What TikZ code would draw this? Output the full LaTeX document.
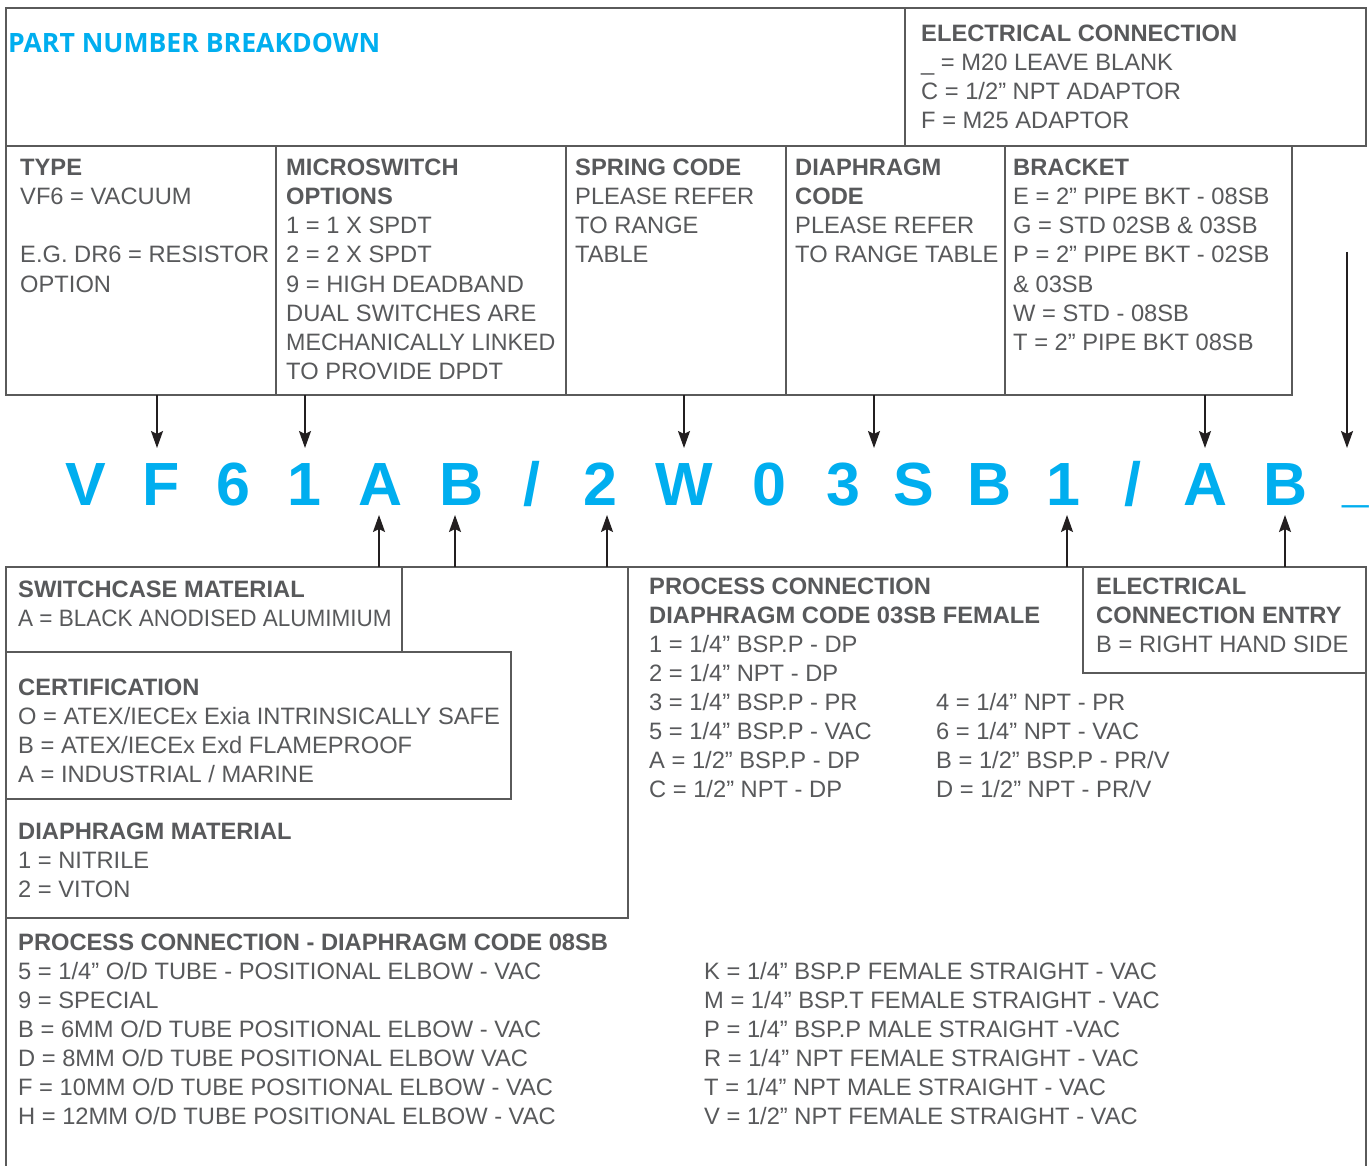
\documentclass[tikz,border=0pt]{standalone}
\usepackage{fontspec}
\setmainfont{Liberation Sans}
\newfontfamily\titlefont{Open Sans}
\usetikzlibrary{arrows.meta}
\definecolor{cyanpn}{HTML}{00AEEF}
\definecolor{txtgray}{HTML}{58595B}
\definecolor{linegray}{HTML}{5A5A5A}
\definecolor{arrblack}{HTML}{231F20}
\begin{document}
\begin{tikzpicture}[x=1pt,y=-1pt,
 box/.style={draw=linegray,line width=2.2pt},
 txt/.style={anchor=base west,inner sep=0pt,text=txtgray,font=\fontsize{23.7}{29}\selectfont},
 hdr/.style={anchor=base west,inner sep=0pt,text=txtgray,font=\fontsize{23.7}{29}\selectfont\bfseries},
 big/.style={anchor=base,inner sep=0pt,text=cyanpn,font=\fontsize{61}{61}\selectfont\bfseries},
 arr/.style={draw=arrblack,line width=2pt,-{Stealth[length=17pt,width=12pt,inset=3pt]}}
]
\useasboundingbox[fill=white] (0,0) rectangle (1370,1166);

% ---------- top boxes ----------
\draw[box] (6,8) rectangle (1366,146);
\draw[box] (905,8) -- (905,146);
\draw[box] (6,146) rectangle (1292,395);
\foreach \xx in {276,566,786,1005} \draw[box] (\xx,146) -- (\xx,395);

% ---------- bottom boxes ----------
\draw[box] (6,1180) -- (6,567) -- (1366,567) -- (1366,1180);
\draw[box] (402,567) -- (402,652);
\draw[box] (6,652) -- (511,652) -- (511,799) -- (6,799);
\draw[box] (628,567) -- (628,918) -- (6,918);
\draw[box] (1083,567) -- (1083,673) -- (1366,673);

% ---------- title ----------
\node[anchor=base west,inner sep=0pt,text=cyanpn,font=\titlefont\bfseries\fontsize{26.6}{30}\selectfont] (title) at (8,53) {PART NUMBER BREAKDOWN};

% ---------- electrical connection ----------
\node[hdr] (ec0) at (921,42) {ELECTRICAL CONNECTION};
\node[txt] (ec1) at (921,71) {\_ = M20 LEAVE BLANK};
\node[txt] (ec2) at (921,100) {C = 1/2” NPT ADAPTOR};
\node[txt] (ec3) at (921,129) {F = M25 ADAPTOR};

% ---------- type ----------
\node[hdr] (ty0) at (20,176) {TYPE};
\node[txt] (ty1) at (20,205) {VF6 = VACUUM};
\node[txt] (ty2) at (20,263) {E.G. DR6 = RESISTOR};
\node[txt] (ty3) at (20,292) {OPTION};

% ---------- microswitch ----------
\node[hdr] (ms0) at (286,176) {MICROSWITCH};
\node[hdr] (ms1) at (286,205) {OPTIONS};
\node[txt] (ms2) at (286,234) {1 = 1 X SPDT};
\node[txt] (ms3) at (286,263) {2 = 2 X SPDT};
\node[txt] (ms4) at (286,292) {9 = HIGH DEADBAND};
\node[txt] (ms5) at (286,321) {DUAL SWITCHES ARE};
\node[txt] (ms6) at (286,350) {\scalebox{0.98}[1]{MECHANICALLY LINKED}};
\node[txt] (ms7) at (286,379) {TO PROVIDE DPDT};

% ---------- spring code ----------
\node[hdr] (sp0) at (575,176) {SPRING CODE};
\node[txt] (sp1) at (575,205) {PLEASE REFER};
\node[txt] (sp2) at (575,234) {TO RANGE};
\node[txt] (sp3) at (575,263) {TABLE};

% ---------- diaphragm code ----------
\node[hdr] (dc0) at (795,176) {DIAPHRAGM};
\node[hdr] (dc1) at (795,205) {CODE};
\node[txt] (dc2) at (795,234) {PLEASE REFER};
\node[txt] (dc3) at (795,263) {TO RANGE TABLE};

% ---------- bracket ----------
\node[hdr] (br0) at (1013,176) {BRACKET};
\node[txt] (br1) at (1013,205) {E = 2” PIPE BKT - 08SB};
\node[txt] (br2) at (1013,234) {G = STD 02SB \& 03SB};
\node[txt] (br3) at (1013,263) {P = 2” PIPE BKT - 02SB};
\node[txt] (br4) at (1013,292) {\& 03SB};
\node[txt] (br5) at (1013,321) {W = STD - 08SB};
\node[txt] (br6) at (1013,350) {T = 2” PIPE BKT 08SB};

% ---------- part number letters ----------
\node[big] (L1) at (86,505) {V};
\node[big] (L2) at (161,505) {F};
\node[big] (L3) at (233,505) {6};
\node[big] (L4) at (304,505) {1};
\node[big] (L5) at (381,505) {A};
\node[big] (L6) at (462,505) {B};
\node[big] (L7) at (532,505) {/};
\node[big] (L8) at (600,505) {2};
\node[big] (L9) at (684,505) {W};
\node[big] (L10) at (769,505) {0};
\node[big] (L11) at (843,505) {3};
\node[big] (L12) at (914,505) {S};
\node[big] (L13) at (990,505) {B};
\node[big] (L14) at (1063,505) {1};
\node[big] (L15) at (1133,505) {/};
\node[big] (L16) at (1206,505) {A};
\node[big] (L17) at (1286,505) {B};
\node[big,anchor=base west] (L18) at (1342,500) {\scalebox{0.78}[1]{\_}};

% ---------- arrows ----------
\coordinate (downtip) at (0,448);
\coordinate (uptip) at (0,515);
\coordinate (dTY) at (157,395);
\coordinate (dMS) at (305,395);
\coordinate (dSP) at (684,395);
\coordinate (dDC) at (874,395);
\coordinate (dBR) at (1205,395);
\coordinate (dEC) at (1347,252);
\foreach \c in {dTY,dMS,dSP,dDC,dBR,dEC} \draw[arr] (\c) -- (\c |- downtip);
\coordinate (uSW) at (379,567);
\coordinate (uCE) at (455,567);
\coordinate (uDM) at (607,567);
\coordinate (uPC) at (1067,567);
\coordinate (uEE) at (1285,567);
\foreach \c in {uSW,uCE,uDM,uPC,uEE} \draw[arr] (\c) -- (\c |- uptip);

% ---------- switchcase ----------
\node[hdr] (sw0) at (18,597) {SWITCHCASE MATERIAL};
\node[txt] (sw1) at (18,626) {\scalebox{0.95}[1]{A = BLACK ANODISED ALUMIMIUM}};

% ---------- certification ----------
\node[hdr] (ce0) at (18,695) {CERTIFICATION};
\node[txt] (ce1) at (18,724) {O = ATEX/IECEx Exia INTRINSICALLY SAFE};
\node[txt] (ce2) at (18,753) {B = ATEX/IECEx Exd FLAMEPROOF};
\node[txt] (ce3) at (18,782) {A = INDUSTRIAL / MARINE};

% ---------- diaphragm material ----------
\node[hdr] (dm0) at (18,839) {DIAPHRAGM MATERIAL};
\node[txt] (dm1) at (18,868) {1 = NITRILE};
\node[txt] (dm2) at (18,897) {2 = VITON};

% ---------- process connection 08SB ----------
\node[hdr] (pa0) at (18,950) {PROCESS CONNECTION - DIAPHRAGM CODE 08SB};
\node[txt] (pa1) at (18,979) {5 = 1/4” O/D TUBE - POSITIONAL ELBOW - VAC};
\node[txt] (pa2) at (18,1008) {9 = SPECIAL};
\node[txt] (pa3) at (18,1037) {B = 6MM O/D TUBE POSITIONAL ELBOW - VAC};
\node[txt] (pa4) at (18,1066) {D = 8MM O/D TUBE POSITIONAL ELBOW VAC};
\node[txt] (pa5) at (18,1095) {F = 10MM O/D TUBE POSITIONAL ELBOW - VAC};
\node[txt] (pa6) at (18,1124) {H = 12MM O/D TUBE POSITIONAL ELBOW - VAC};
\node[txt] (pb1) at (704,979) {K = 1/4” BSP.P FEMALE STRAIGHT - VAC};
\node[txt] (pb2) at (704,1008) {M = 1/4” BSP.T FEMALE STRAIGHT - VAC};
\node[txt] (pb3) at (704,1037) {P = 1/4” BSP.P MALE STRAIGHT -VAC};
\node[txt] (pb4) at (704,1066) {R = 1/4” NPT FEMALE STRAIGHT - VAC};
\node[txt] (pb5) at (704,1095) {T = 1/4” NPT MALE STRAIGHT - VAC};
\node[txt] (pb6) at (704,1124) {V = 1/2” NPT FEMALE STRAIGHT - VAC};

% ---------- process connection 03SB ----------
\node[hdr] (pc0) at (649,594) {PROCESS CONNECTION};
\node[hdr] (pc1) at (649,623) {DIAPHRAGM CODE 03SB FEMALE};
\node[txt] (pc2) at (649,652) {1 = 1/4” BSP.P - DP};
\node[txt] (pc3) at (649,681) {2 = 1/4” NPT - DP};
\node[txt] (pc4) at (649,710) {3 = 1/4” BSP.P - PR};
\node[txt] (pc5) at (649,739) {5 = 1/4” BSP.P - VAC};
\node[txt] (pc6) at (649,768) {A = 1/2” BSP.P - DP};
\node[txt] (pc7) at (649,797) {C = 1/2” NPT - DP};
\node[txt] (pd4) at (936,710) {4 = 1/4” NPT - PR};
\node[txt] (pd5) at (936,739) {6 = 1/4” NPT - VAC};
\node[txt] (pd6) at (936,768) {B = 1/2” BSP.P - PR/V};
\node[txt] (pd7) at (936,797) {D = 1/2” NPT - PR/V};

% ---------- electrical connection entry ----------
\node[hdr] (ee0) at (1096,594) {ELECTRICAL};
\node[hdr] (ee1) at (1096,623) {CONNECTION ENTRY};
\node[txt] (ee2) at (1096,652) {B = RIGHT HAND SIDE};
\end{tikzpicture}
\end{document}
